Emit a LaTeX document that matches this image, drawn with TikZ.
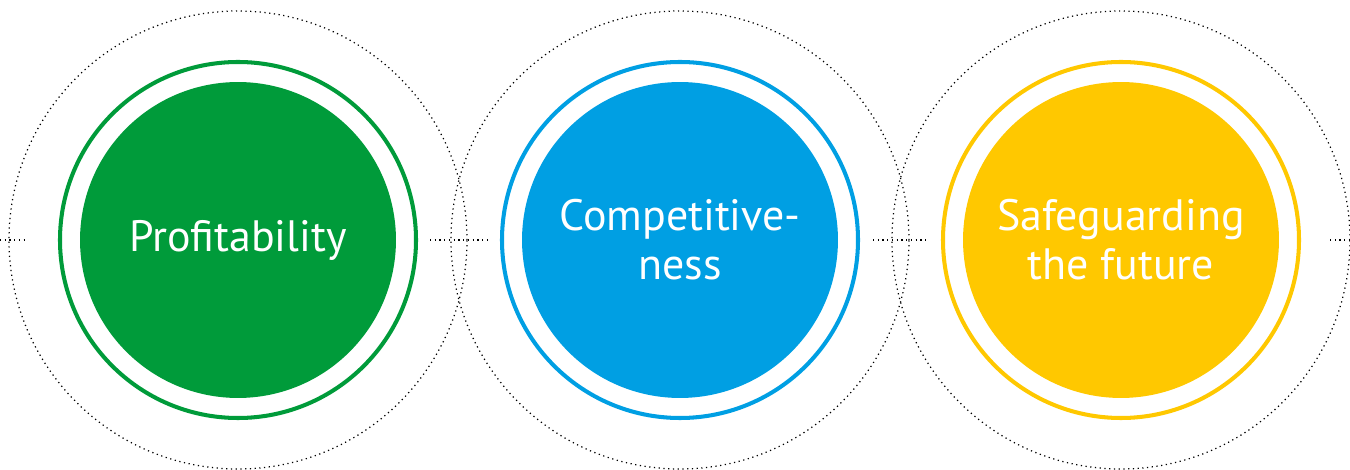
\documentclass[tikz,border=0pt]{standalone}
\usepackage{fontspec}
\setmainfont{PT Sans}
\usetikzlibrary{positioning}

\definecolor{profitgreen}{HTML}{009B3A}
\definecolor{competeblue}{HTML}{009FE3}
\definecolor{futureyellow}{HTML}{FFC800}

\begin{document}
\begin{tikzpicture}[x=0.02cm, y=0.02cm,
  disc/.style={circle, minimum size=6.32cm, inner sep=0pt, text=white,
    align=center, font=\fontsize{25}{27.8}\selectfont},
  ring/.style={line width=2.3pt},
  halo/.style={dotted, line width=0.7pt, black}
]

\useasboundingbox (0,0) rectangle (1350,470);

\path
(238,230) node[disc, fill=profitgreen] (profit) {Profitability}
(680,230) node[disc, fill=competeblue] (compete) {Competitive-\\ness}
(1121,230) node[disc, fill=futureyellow] (future) {Safeguarding\\the future}
;

\draw[ring, profitgreen] (profit.center) circle (178);
\draw[ring, competeblue] (compete.center) circle (178);
\draw[ring, futureyellow] (future.center) circle (178);

\begin{scope}[halo]
\draw (profit.center) circle (229);
\draw (compete.center) circle (229);
\draw (future.center) circle (229);
\end{scope}

\path
(profit.center) +(-238,0) coordinate (w0) +(-210,0) coordinate (w1)
(profit.center) +(192,0) coordinate (m1) +(250,0) coordinate (m2)
(compete.center) +(193,0) coordinate (m3) +(249,0) coordinate (m4)
(future.center) +(209,0) coordinate (e1) +(229,0) coordinate (e2)
;

\begin{scope}[halo]
\draw (w0) -- (w1);
\draw (m1) -- (m2);
\draw (m3) -- (m4);
\draw (e1) -- (e2);
\end{scope}

\end{tikzpicture}
\end{document}
